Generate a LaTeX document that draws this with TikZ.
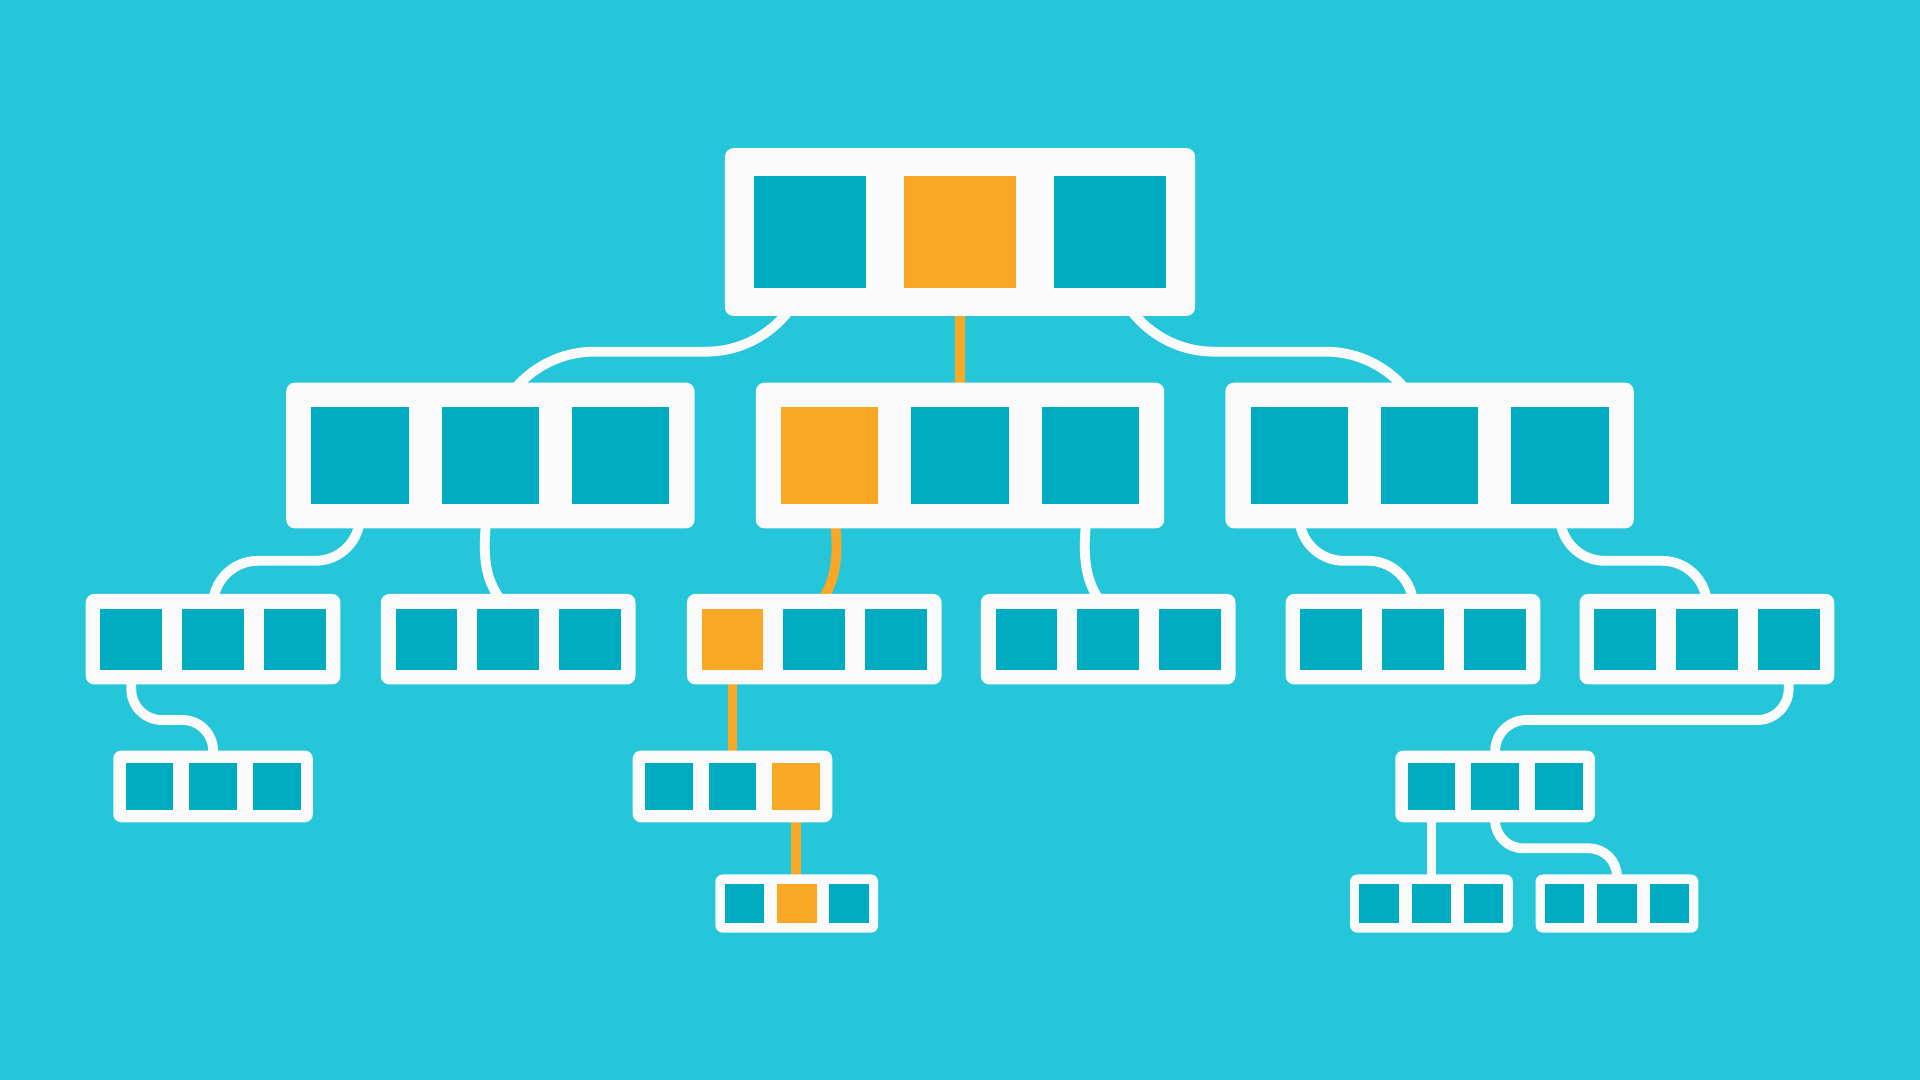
\documentclass[tikz,border=0pt]{standalone}
\usetikzlibrary{calc}
\definecolor{bgc}{HTML}{26C6DA}
\definecolor{boxwhite}{HTML}{FAFAFA}
\definecolor{tealsq}{HTML}{00ACC1}
\definecolor{accent}{HTML}{F9A825}
\pgfdeclarelayer{bg}
\pgfdeclarelayer{links}
\pgfsetlayers{bg,links,main}
\tikzset{
  frameA/.style={rectangle, fill=boxwhite, draw=none, inner sep=0pt, rounded corners=7pt, minimum width=384pt, minimum height=137pt},
  frameB/.style={rectangle, fill=boxwhite, draw=none, inner sep=0pt, rounded corners=7pt, minimum width=333.5pt, minimum height=119pt},
  frameC/.style={rectangle, fill=boxwhite, draw=none, inner sep=0pt, rounded corners=7pt, minimum width=208pt, minimum height=74pt},
  frameD/.style={rectangle, fill=boxwhite, draw=none, inner sep=0pt, rounded corners=6.5pt, minimum width=163pt, minimum height=58.5pt},
  frameE/.style={rectangle, fill=boxwhite, draw=none, inner sep=0pt, rounded corners=6pt, minimum width=133pt, minimum height=47.5pt},
  sqA/.style={rectangle, draw=none, inner sep=0pt, minimum width=92pt, minimum height=91.5pt},
  sqB/.style={rectangle, draw=none, inner sep=0pt, minimum width=79.5pt, minimum height=79.5pt},
  sqC/.style={rectangle, draw=none, inner sep=0pt, minimum width=50.5pt, minimum height=50pt},
  sqD/.style={rectangle, draw=none, inner sep=0pt, minimum width=39pt, minimum height=39pt},
  sqE/.style={rectangle, draw=none, inner sep=0pt, minimum width=32.2pt, minimum height=32pt},
  wlink/.style={draw=boxwhite, line width=8pt},
  olink/.style={draw=accent, line width=8pt}
}
\newcommand{\trio}[9]{%
  \node[#4] (#1) at (#2,#3) {};
  \node[#5, fill=#7] (#1-1) at ($(#1.center)+(-#6,0)$) {};
  \node[#5, fill=#8] (#1-2) at (#1.center) {};
  \node[#5, fill=#9] (#1-3) at ($(#1.center)+(#6,0)$) {};
}
\begin{document}
\begin{tikzpicture}[x=1pt,y=-1pt]
\useasboundingbox (0,0) rectangle (1568,882);
\begin{pgfonlayer}{bg}
  \fill[bgc] (0,0) rectangle (1568,882);
\end{pgfonlayer}

% level 1
\trio{top}{784}{189.5}{frameA}{sqA}{122.5}{tealsq}{accent}{tealsq}
% level 2
\trio{L2a}{400.5}{372}{frameB}{sqB}{106.5}{tealsq}{tealsq}{tealsq}
\trio{L2b}{784}{372}{frameB}{sqB}{106.5}{accent}{tealsq}{tealsq}
\trio{L2c}{1167.5}{372}{frameB}{sqB}{106.5}{tealsq}{tealsq}{tealsq}
% level 3
\trio{L3a}{174}{522}{frameC}{sqC}{66.75}{tealsq}{tealsq}{tealsq}
\trio{L3b}{415}{522}{frameC}{sqC}{66.75}{tealsq}{tealsq}{tealsq}
\trio{L3c}{665}{522}{frameC}{sqC}{66.75}{accent}{tealsq}{tealsq}
\trio{L3d}{905}{522}{frameC}{sqC}{66.75}{tealsq}{tealsq}{tealsq}
\trio{L3e}{1154}{522}{frameC}{sqC}{66.75}{tealsq}{tealsq}{tealsq}
\trio{L3f}{1394}{522}{frameC}{sqC}{66.75}{tealsq}{tealsq}{tealsq}
% level 4
\trio{L4a}{174}{642.25}{frameD}{sqD}{52}{tealsq}{tealsq}{tealsq}
\trio{L4b}{598.2}{642.25}{frameD}{sqD}{52}{tealsq}{tealsq}{accent}
\trio{L4c}{1221}{642.25}{frameD}{sqD}{52}{tealsq}{tealsq}{tealsq}
% level 5
\trio{L5d}{650.7}{737.9}{frameE}{sqE}{42.7}{tealsq}{accent}{tealsq}
\trio{L5e}{1169}{737.9}{frameE}{sqE}{42.7}{tealsq}{tealsq}{tealsq}
\trio{L5f}{1320.5}{737.9}{frameE}{sqE}{42.7}{tealsq}{tealsq}{tealsq}

% levels of the horizontal runs
\coordinate (yA) at (0,287.2);
\coordinate (yB) at (0,458);
\coordinate (yC) at (0,588);
\coordinate (yD) at (0,692.8);

\begin{pgfonlayer}{links}
  % top -> level 2
  \draw[wlink, rounded corners=85pt] (top-1.center) -- (top-1.center |- yA) -- (L2a.center |- yA) -- ($(L2a.south)+(0,-10)$);
  \draw[olink] (top-2.center) -- (L2b.center);
  \draw[wlink, rounded corners=85pt] (top-3.center) -- (top-3.center |- yA) -- (L2c.center |- yA) -- ($(L2c.south)+(0,-10)$);
  % level 2 -> level 3
  \draw[wlink, rounded corners=36.5pt] (L2a-1.center) -- (L2a-1.center |- yB) -- (L3a-2.center |- yB) -- (L3a-2.center);
  \draw[wlink] ($(L2a.south)+(-3.5,-6)$) -- ($(L2a.south)+(-4,0)$)
     .. controls (394.5,457) and (397.5,472) .. ($(L3b.north)+(-9.5,0)$) -- ($(L3b.north)+(-6.4,5.1)$);
  \draw[olink] ($(L2b.south)+(-101.7,-6)$) -- ($(L2b.south)+(-101.5,0)$)
     .. controls (684.5,457) and (681.5,472) .. ($(L3c.north)+(9.5,0)$) -- ($(L3c.north)+(6.7,5.3)$);
  \draw[wlink] ($(L2b.south)+(102.7,-6)$) -- ($(L2b.south)+(102.5,0)$)
     .. controls (884.5,457) and (887.5,472) .. ($(L3d.north)+(-10.5,0)$) -- ($(L3d.north)+(-7.4,5.1)$);
  \draw[wlink, rounded corners=36.5pt] (L2c-1.center) -- (L2c-1.center |- yB) -- (L3e-2.center |- yB) -- (L3e-2.center);
  \draw[wlink, rounded corners=36.5pt] (L2c-3.center) -- (L2c-3.center |- yB) -- (L3f-2.center |- yB) -- (L3f-2.center);
  % level 3 -> level 4
  \draw[wlink, rounded corners=25pt] (L3a-1.center) -- (L3a-1.center |- yC) -- (L4a-2.center |- yC) -- (L4a-2.center);
  \draw[olink] (L3c-1.center) -- (L3c-1.center |- L4b.center);
  \draw[wlink, rounded corners=25.5pt] (L3f-3.center) -- (L3f-3.center |- yC) -- (L4c-2.center |- yC) -- (L4c-2.center);
  % level 4 -> level 5
  \draw[olink] (L4b-3.center) -- (L4b-3.center |- L5d.center);
  \draw[wlink] (L4c-1.center) -- (L4c-1.center |- L5e.center);
  \draw[wlink, rounded corners=23pt] (L4c-2.center) -- (L4c-2.center |- yD) -- (L5f-2.center |- yD) -- (L5f-2.center);
\end{pgfonlayer}
\end{tikzpicture}
\end{document}
